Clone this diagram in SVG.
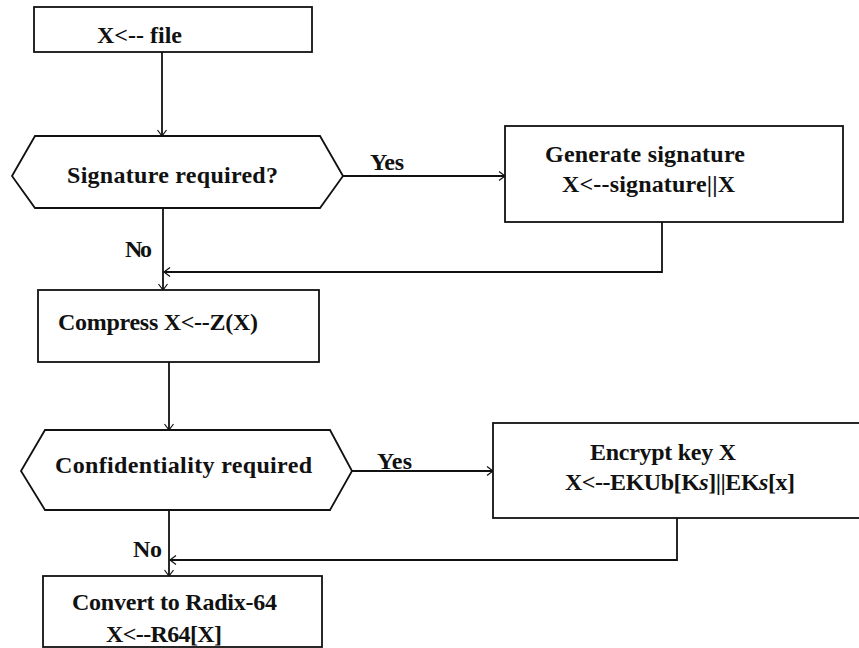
<svg xmlns="http://www.w3.org/2000/svg" width="859" height="648" viewBox="0 0 859 648">
<defs>
<style>
.box{fill:#fff;stroke:#111;stroke-width:1.8}
.ln{fill:none;stroke:#111;stroke-width:1.8}
.t{font-family:'Liberation Serif','DejaVu Serif',serif;font-weight:700;font-size:24px;fill:#111}
</style>
<marker id="arr" markerUnits="userSpaceOnUse" markerWidth="10" markerHeight="12" refX="7" refY="5" orient="auto">
<path d="M1,0.5 L7,5 L1,9.5" fill="none" stroke="#111" stroke-width="1.2"/>
</marker>
</defs>
<rect width="859" height="648" fill="#fff"/>
<g id="connectors">
<path class="ln" d="M162,52 V136" marker-end="url(#arr)"/>
<path class="ln" d="M343,176 H505" marker-end="url(#arr)"/>
<path class="ln" d="M163,208 V290" marker-end="url(#arr)"/>
<path class="ln" d="M662,222 V272 H164" marker-end="url(#arr)"/>
<path class="ln" d="M169,362 V430" marker-end="url(#arr)"/>
<path class="ln" d="M352,471 H493" marker-end="url(#arr)"/>
<path class="ln" d="M169,510 V576" marker-end="url(#arr)"/>
<path class="ln" d="M677,518 V560 H170" marker-end="url(#arr)"/>
<text class="t" x="370" y="170" textLength="34">Yes</text>
<text class="t" x="125" y="257" textLength="27">No</text>
<text class="t" x="377" y="469" textLength="35">Yes</text>
<text class="t" x="133" y="557" textLength="29">No</text>
</g>
<g id="start">
<rect class="box" x="34" y="7" width="278" height="45"/>
<text class="t" x="97" y="43" textLength="85">X&lt;-- file</text>
</g>
<g id="sig-decision">
<polygon class="box" points="35,136 320,136 343,176 320,208 35,208 12,176"/>
<text class="t" x="67" y="183" textLength="211">Signature required?</text>
</g>
<g id="gen-sig">
<rect class="box" x="505" y="126" width="338" height="96"/>
<text class="t" x="545" y="162" textLength="200">Generate signature</text>
<text class="t" x="562" y="192" textLength="173">X&lt;--signature||X</text>
</g>
<g id="compress">
<rect class="box" x="38" y="290" width="281" height="72"/>
<text class="t" x="58" y="330" textLength="200">Compress X&lt;--Z(X)</text>
</g>
<g id="conf-decision">
<polygon class="box" points="45,430 330,430 352,471 330,510 45,510 21,471"/>
<text class="t" x="55" y="473" textLength="257">Confidentiality required</text>
</g>
<g id="encrypt">
<rect class="box" x="493" y="423" width="380" height="95"/>
<text class="t" x="590" y="460" textLength="146">Encrypt key X</text>
<text class="t" x="565" y="490" textLength="230">X&lt;--EKUb[K<tspan font-style="italic">s</tspan>]||EK<tspan font-style="italic">s</tspan>[x]</text>
</g>
<g id="radix">
<rect class="box" x="43" y="576" width="279" height="71"/>
<text class="t" x="72" y="610" textLength="205">Convert to Radix-64</text>
<text class="t" x="106" y="642" textLength="116">X&lt;--R64[X]</text>
</g>
</svg>
